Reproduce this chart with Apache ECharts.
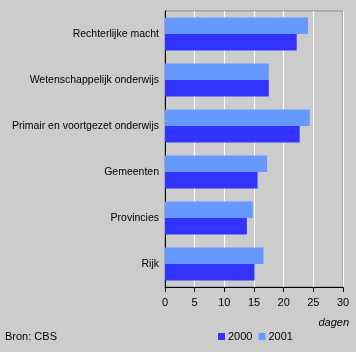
<!DOCTYPE html>
<html>
<head>
<meta charset="utf-8">
<script src="https://cdn.jsdelivr.net/npm/echarts@6/dist/echarts.min.js"></script>
<style>
  html, body { margin: 0; padding: 0; background: #cccccc; }
  #chart { width: 356px; height: 352px; }
</style>
</head>
<body>
<div id="chart"></div>
<script>
// categories bottom to top
var categories = ['Rijk', 'Provincies', 'Gemeenten', 'Primair en voortgezet onderwijs', 'Wetenschappelijk onderwijs', 'Rechterlijke macht'];
var values2000 = [15.1, 13.8, 15.6, 22.7, 17.5, 22.2];
var values2001 = [16.6, 14.8, 17.2, 24.4, 17.5, 24.1];
var xTicks = [0, 5, 10, 15, 20, 25, 30];

var chart = echarts.init(document.getElementById('chart'));
var font = 'Liberation Sans, Arial, sans-serif';

var option = {
    backgroundColor: '#cccccc',
    animation: false,
    textStyle: {fontFamily: font},
    grid: {
        left: 165, right: 13, top: 11, bottom: 65,
        containLabel: false, outerBoundsMode: 'none',
        show: true, borderColor: '#888888', borderWidth: 1, backgroundColor: 'transparent'
    },
    legend: {
        left: 213, top: 326,
        itemWidth: 7, itemHeight: 7, itemGap: 6,
        icon: 'rect',
        textStyle: {fontSize: 11, color: '#000', fontFamily: font, padding: [0, 0, 0, -2]},
        data: ['2000', '2001']
    },
    xAxis: {
        type: 'value',
        min: xTicks[0], max: xTicks[xTicks.length - 1], interval: 5,
        axisLine: {show: true, lineStyle: {color: '#000', width: 1}},
        axisTick: {show: true, length: 5, lineStyle: {color: '#000'}},
        axisLabel: {color: '#000', fontSize: 11, margin: 10, fontFamily: font},
        splitLine: {show: true, lineStyle: {color: '#ffffff', width: 1}}
    },
    yAxis: {
        type: 'category',
        data: categories,
        axisLine: {show: true, lineStyle: {color: '#000', width: 1}},
        axisTick: {show: false},
        axisLabel: {color: '#000', fontSize: 10.5, margin: 6, fontFamily: font},
        splitLine: {show: false}
    },
    // 2001 first so it sits on top within each category
    series: [
        {
            name: '2001', type: 'bar', data: values2001,
            itemStyle: {color: '#6699ff'},
            barGap: '0%', barCategoryGap: '28%'
        },
        {
            name: '2000', type: 'bar', data: values2000,
            itemStyle: {color: '#3333ff'},
            barGap: '0%', barCategoryGap: '28%'
        }
    ],
    graphic: [
        {
            type: 'text', right: 7, top: 317,
            style: {text: 'dagen', font: 'italic 11px ' + font, fill: '#000'}
        },
        {
            type: 'text', left: 5, top: 331,
            style: {text: 'Bron: CBS', font: '11px ' + font, fill: '#000'}
        }
    ]
};

chart.setOption(option);
</script>
</body>
</html>
